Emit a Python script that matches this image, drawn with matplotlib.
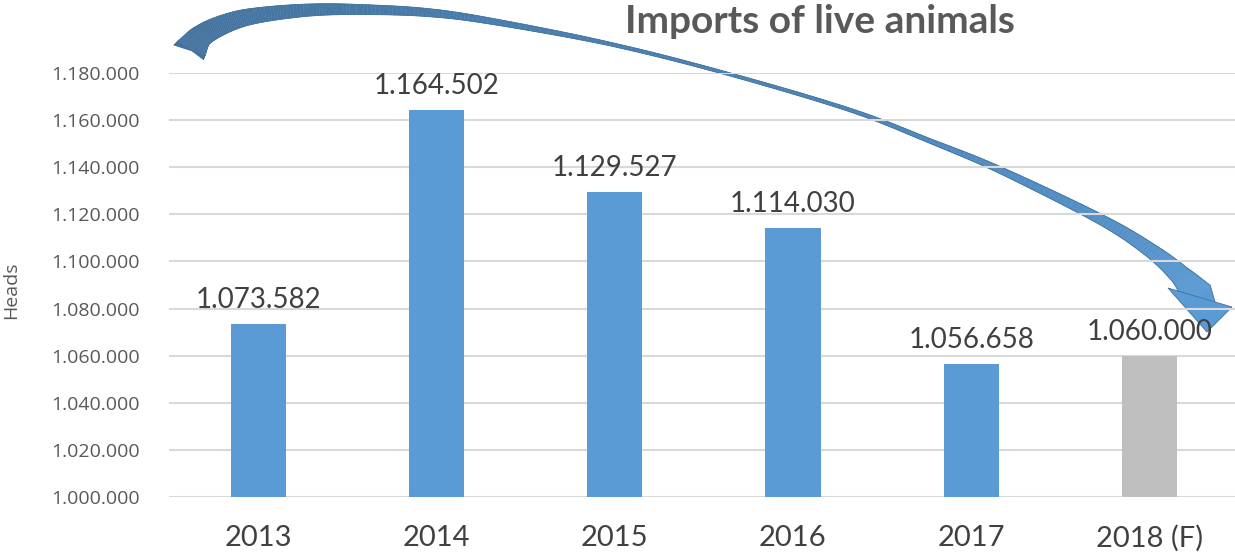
import numpy as np
import matplotlib.pyplot as plt
from matplotlib.patches import Polygon
from matplotlib.colors import to_rgb

# data
years = ['2013', '2014', '2015', '2016', '2017', '2018 (F)']
heads = [1073582, 1164502, 1129527, 1114030, 1056658, 1060000]
bar_colors = ['#5B9BD5'] * 5 + ['#BFBFBF']
y_ticks = np.arange(1000000, 1180001, 20000)


def dotted(v):
    return f'{int(v):,}'.replace(',', '.')


W, H = 1235, 557
plt.rcParams['font.family'] = ['Lato', 'DejaVu Sans']
fig = plt.figure(figsize=(W / 100, H / 100), dpi=100)
ax = fig.add_axes([169 / W, 1 - 497 / H, (W - 169) / W, (497 - 73) / H])
ax.patch.set_visible(False)

x = np.arange(len(years))
ax.bar(x, heads, width=0.31, color=bar_colors, zorder=2)
ax.set_ylim(1000000, 1180000)
ax.set_xlim(-0.5, 5.48)
ax.set_yticks(y_ticks)
ax.set_yticklabels([dotted(v) for v in y_ticks], fontfamily='Open Sans',
                   fontsize=14, color='#595959')
ax.set_xticks(x)
ax.set_xticklabels(years, fontsize=21, color='#404040')
ax.tick_params(length=0)
ax.tick_params(axis='y', pad=21)
ax.tick_params(axis='x', pad=20)
ax.grid(axis='y', color='#D9D9D9', lw=1.5, zorder=0)
for s in ax.spines.values():
    s.set_visible(False)
ax.set_ylabel('Heads', fontfamily='Open Sans', fontsize=14, color='#595959')
ax.yaxis.set_label_coords((20 - 169) / (W - 169), (497 - 290) / 424)

for i, v in enumerate(heads):
    ax.annotate(dotted(v), (i, v), xytext=(0, 11.5), textcoords='offset points',
                ha='center', va='baseline', fontsize=20, color='#404040', zorder=6)

fig.text(820 / W, 1 - 33 / H, 'Imports of live animals', ha='center', va='baseline',
         fontsize=28, fontweight='bold', color='#595959')

# curved arrow behind the chart (pixel coords, y down)
arrow_pts = np.array([(190, 51), (203, 35), (230, 22), (260, 15), (310, 10), (360, 9.5),
                      (427, 12.5), (493, 21.5), (610, 44), (725, 73), (850, 110),
                      (930, 141), (1000, 170), (1100, 219), (1150, 250), (1180, 275),
                      (1199, 297)], float)
arrow_w = np.array([32, 22, 18, 15, 12, 10, 8, 6, 3.5, 3, 3.5, 4.5, 6.5, 10, 14, 20, 33], float)


def spline(p, n=16):
    p = np.vstack([p[0] * 2 - p[1], p, p[-1] * 2 - p[-2]])
    out = []
    t = np.linspace(0, 1, n, endpoint=False)[:, None]
    for i in range(1, len(p) - 2):
        p0, p1, p2, p3 = p[i - 1], p[i], p[i + 1], p[i + 2]
        out.append(0.5 * (2 * p1 + (-p0 + p2) * t + (2 * p0 - 5 * p1 + 4 * p2 - p3) * t ** 2
                          + (-p0 + 3 * p1 - 3 * p2 + p3) * t ** 3))
    out.append(p[-2][None])
    return np.vstack(out)


n = 16
c = spline(arrow_pts, n)
w = np.interp(np.arange(len(c)) / n, np.arange(len(arrow_w)), arrow_w)
tan = np.gradient(c, axis=0)
tan /= np.linalg.norm(tan, axis=1)[:, None]
nor = np.column_stack([-tan[:, 1], tan[:, 0]])
left = c + nor * w[:, None] / 2
right = c - nor * w[:, None] / 2
# tail cut and notch points of the head
left[0], right[0] = (205, 55), (174, 45)
left[-1], right[-1] = (1183, 292), (1215, 302)


def to_fig(p):
    p = np.asarray(p, float)
    return np.column_stack([p[:, 0] / W, 1 - p[:, 1] / H])


c0, c1 = np.array(to_rgb('#43729E')), np.array(to_rgb('#5B9BD5'))
for k in range(len(c) - 1):
    f = (k / (len(c) - 2)) ** 1.5
    col = c0 * (1 - f) + c1 * f
    fig.add_artist(Polygon(to_fig([left[k], left[k + 1], right[k + 1], right[k]]),
                           closed=True, facecolor=col, edgecolor=col, lw=0.3,
                           transform=fig.transFigure, zorder=-2))
outline = np.vstack([left[::-1], right])
fig.add_artist(plt.Line2D(*to_fig(outline).T, color='#41719C', lw=0.6,
                          transform=fig.transFigure, zorder=-1.5))
head = [(1168, 288), (1207, 332), (1232, 307)]
fig.add_artist(Polygon(to_fig(head), closed=True, facecolor='#5B9BD5', edgecolor='#41719C',
                       lw=0.6, transform=fig.transFigure, zorder=-1))

fig.savefig('out.png', dpi=100)
